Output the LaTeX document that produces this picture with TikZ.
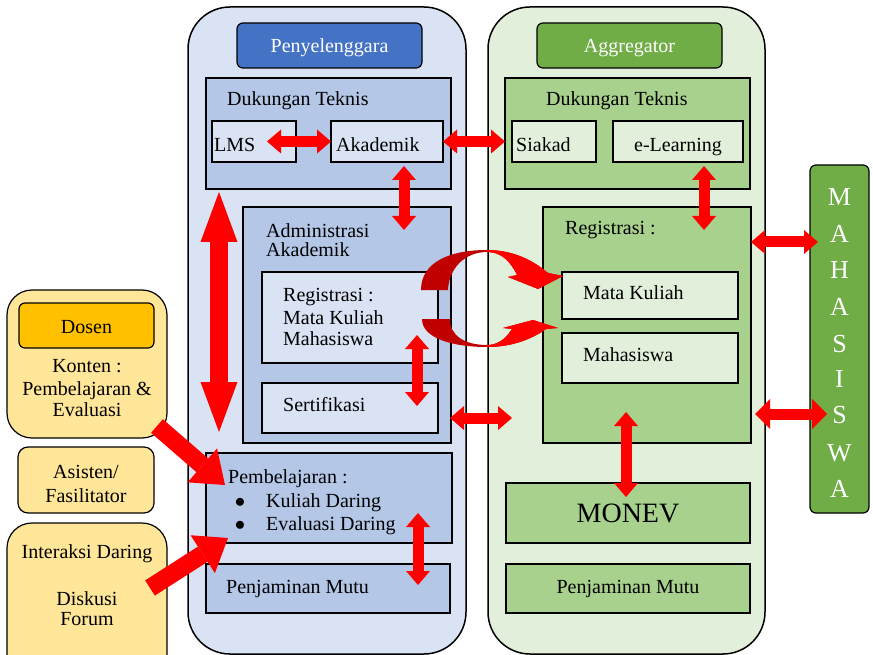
\documentclass[tikz,border=0pt]{standalone}
\usepackage{fontspec}
\setmainfont{Liberation Serif}
\usetikzlibrary{arrows.meta,calc}
\definecolor{lblue}{HTML}{DAE3F3}
\definecolor{mblue}{HTML}{B4C7E7}
\definecolor{dblue}{HTML}{4472C4}
\definecolor{lgreen}{HTML}{E2EFDA}
\definecolor{mgreen}{HTML}{A9D18E}
\definecolor{dgreen}{HTML}{70AD47}
\definecolor{lyel}{HTML}{FFE699}
\definecolor{dyel}{HTML}{FFC000}
\definecolor{dred}{HTML}{C00000}
\newcommand\fsz{\fontsize{20}{22}\selectfont}
\begin{document}
\begin{tikzpicture}[x=1pt,y=-1pt,
  box/.style={draw=black, line width=1.2pt, anchor=north west, inner sep=0pt, outer sep=0pt},
  panel/.style={box, line width=1.5pt, rounded corners=42pt},
  hdr/.style={box, rounded corners=6pt},
  t/.style={anchor=base west, inner sep=0pt, font=\fsz},
  tc/.style={anchor=base, inner sep=0pt, font=\fsz},
  letter/.style={anchor=base, inner sep=0pt, text=white, font=\fontsize{26}{26}\selectfont},
  barr/.style={draw=red, line width=11pt, >={Triangle[width=24pt,length=14pt,line width=0pt]}, <->},
  bigarr/.style={draw=red, line width=18pt, >={Triangle[width=37pt,length=50pt,line width=0pt]}, <->},
  diagarr/.style={draw=red, line width=18pt, >={Triangle[width=45pt,length=30pt,line width=0pt]}, ->},
]
\useasboundingbox (0,0) rectangle (873,655);
\clip (0,0) rectangle (873,655);

% panels
\node[panel, fill=lblue, minimum width=278pt, minimum height=647pt] (panelL) at (188,7) {};
\node[panel, fill=lgreen, minimum width=277pt, minimum height=647pt] (panelR) at (488,7) {};
\node[hdr, fill=dblue, minimum width=185pt, minimum height=45pt] (hdrL) at (237,23) {};
\node[hdr, fill=dgreen, minimum width=185pt, minimum height=45pt] (hdrR) at (537,23) {};

% left column boxes
\node[box, fill=mblue, minimum width=245pt, minimum height=111pt] (dtL) at (206,78) {};
\node[box, fill=lblue, minimum width=84pt, minimum height=41pt] (lms) at (212,121) {};
\node[box, fill=lblue, minimum width=112pt, minimum height=41pt] (akad) at (331,121) {};
\node[box, fill=mblue, minimum width=208pt, minimum height=236pt] (admin) at (243,207) {};
\node[box, fill=lblue, minimum width=176pt, minimum height=91pt] (regL) at (262,272) {};
\node[box, fill=lblue, minimum width=176pt, minimum height=50pt] (sert) at (262,383) {};
\node[box, fill=mblue, minimum width=246pt, minimum height=90pt] (pemb) at (206,453) {};
\node[box, fill=mblue, minimum width=244pt, minimum height=49pt] (pmL) at (206,564) {};

% right column boxes
\node[box, fill=mgreen, minimum width=245pt, minimum height=111pt] (dtR) at (505,78) {};
\node[box, fill=lgreen, minimum width=84pt, minimum height=41pt] (siakad) at (512,121) {};
\node[box, fill=lgreen, minimum width=130pt, minimum height=41pt] (elearn) at (613,121) {};
\node[box, fill=mgreen, minimum width=208pt, minimum height=236pt] (regR) at (543,207) {};
\node[box, fill=lgreen, minimum width=176pt, minimum height=47pt] (matkul) at (562,272) {};
\node[box, fill=lgreen, minimum width=176pt, minimum height=50pt] (mhs) at (562,333) {};
\node[box, fill=mgreen, minimum width=244pt, minimum height=60pt] (monev) at (506,483) {};
\node[box, fill=mgreen, minimum width=244pt, minimum height=49pt] (pmR) at (506,564) {};

% MAHASISWA bar
\node[hdr, fill=dgreen, minimum width=59pt, minimum height=348pt] (mhsw) at (810,165) {};

% left actors
\node[box, fill=lyel, rounded corners=25pt, minimum width=160pt, minimum height=148pt] (dosenP) at (7,290) {};
\node[hdr, fill=dyel, minimum width=135pt, minimum height=45pt] (dosenH) at (19,303) {};
\node[box, fill=lyel, rounded corners=10pt, minimum width=136pt, minimum height=66pt] (asisten) at (18,447) {};
\node[box, fill=lyel, rounded corners=25pt, minimum width=160pt, minimum height=160pt] (inter) at (7,523) {};

% texts
\node[tc, text=white] (tPen) at (329.5,53) {Penyelenggara};
\node[tc, text=white] (tAgg) at (629.5,53) {Aggregator};
\node[t] (tDtL) at (227,106) {Dukungan Teknis};
\node[t] (tLMS) at (214,152) {LMS};
\node[t] (tAkad) at (336,152) {Akademik};
\node[t] (tDtR) at (546,106) {Dukungan Teknis};
\node[t] (tSiakad) at (516,152) {Siakad};
\node[tc] (tEL) at (678,152) {e-Learning};
\node[t] (tAdm1) at (266,237) {Administrasi};
\node[t] (tAdm2) at (266,257) {Akademik};
\node[t] (tReg1) at (283,301) {Registrasi :};
\node[t] (tReg2) at (283,324) {Mata Kuliah};
\node[t] (tReg3) at (283,345) {Mahasiswa};
\node[t] (tSert) at (283,411) {Sertifikasi};
\node[t] (tRegR) at (565,235) {Registrasi :};
\node[t] (tMK) at (583,299) {Mata Kuliah};
\node[t] (tMhs) at (583,361) {Mahasiswa};
\node[tc, font=\fontsize{28}{30}\selectfont] (tMonev) at (628,522) {MONEV};
\node[tc] (tPmR) at (628,593) {Penjaminan Mutu};
\node[t] (tPemb) at (228,483) {Pembelajaran :};
\node[tc] (bul1) at (240,507) {$\bullet$};
\node[tc] (bul2) at (240,530) {$\bullet$};
\node[t] (tKD) at (266,507) {Kuliah Daring};
\node[t] (tED) at (266,530) {Evaluasi Daring};
\node[t] (tPmL) at (226,593) {Penjaminan Mutu};
\node[tc] (tDosen) at (86.5,333) {Dosen};
\node[tc] (tK1) at (87,372) {Konten :};
\node[tc] (tK2) at (87,395) {Pembelajaran \&};
\node[tc] (tK3) at (87,416) {Evaluasi};
\node[tc] (tAs1) at (86,478) {Asisten/};
\node[tc] (tAs2) at (86,502) {Fasilitator};
\node[tc] (tI1) at (87,558) {Interaksi Daring};
\node[tc] (tI2) at (87,605) {Diskusi};
\node[tc] (tI3) at (87,625) {Forum};
\foreach \l/\yy [count=\i] in {M/206,A/243,H/279,A/315,S/352,I/387,S/423,W/461,A/497}
  \node[letter] (mw\i) at (839.5,\yy) {\l};

% block arrows
\draw[barr] ([xshift=-29pt]lms.east) -- (akad.west);
\draw[barr] (akad.east) -- ([xshift=-7pt]siakad.west);
\draw[barr] ([xshift=17pt,yshift=-4pt]akad.south) -- ([xshift=57pt,yshift=-23pt]admin.north);
\draw[barr] ([xshift=26pt,yshift=-4pt]elearn.south) -- ([xshift=57pt,yshift=-23pt]regR.north);
\draw[bigarr] ([xshift=13pt,yshift=-3pt]dtL.south west) -- ([xshift=13pt,yshift=21pt]pemb.north west);
\draw[barr] ([xshift=-21pt,yshift=28pt]regL.south east) -- ([xshift=-21pt,yshift=-23pt]sert.north east);
\draw[barr] ([xshift=-1pt,yshift=25pt]admin.south east) -- ([xshift=-31pt,yshift=25pt]regR.south west);
\draw[barr] ([yshift=-35pt]regR.north east) -- ([xshift=8pt,yshift=-77pt]mhsw.north west);
\draw[barr, >={Triangle[width=30pt,length=15pt,line width=0pt]}] ([xshift=4pt,yshift=29pt]regR.south east) -- ([xshift=17pt,yshift=-249pt]mhsw.north west);
\draw[barr] ([xshift=-21pt,yshift=31pt]regR.south) -- ([xshift=-2pt,yshift=-14pt]monev.north);
\draw[barr] ([xshift=-34pt,yshift=30pt]pemb.south east) -- ([xshift=-32pt,yshift=-21pt]pmL.north east);
\draw[diagarr] ([xshift=-10pt,yshift=12pt]dosenP.south east) -- ([xshift=19pt,yshift=-32pt]pemb.north west);
\draw[diagarr] ([xshift=-17pt,yshift=-65pt]inter.north east) -- ([xshift=22pt,yshift=5pt]pemb.south west);

% curved (circular) arrows between the two registrations
\def\topcres{(421,290) .. controls (421,262) and (450,250) .. (487,250) .. controls (515,250) and (535,262) .. (548,273) -- (563,276) -- (538,289) -- (508,277) -- (517,275) .. controls (510,260) and (500,252) .. (487,252) .. controls (465,252) and (449,268) .. (448,290) -- cycle}
\def\botcres{(422,319) .. controls (422,338) and (452,347) .. (487,347) .. controls (515,347) and (535,337) .. (546,329) -- (558,328) -- (533,320) -- (503,328) -- (512,329) .. controls (505,340) and (497,345) .. (487,345) .. controls (465,345) and (450,336) .. (450,319) -- cycle}
\fill[dred] \topcres;
\fill[dred] \botcres;
\begin{scope}
  \clip (487,0) rectangle (873,655);
  \fill[red] \topcres;
  \fill[red] \botcres;
\end{scope}
\end{tikzpicture}
\end{document}
